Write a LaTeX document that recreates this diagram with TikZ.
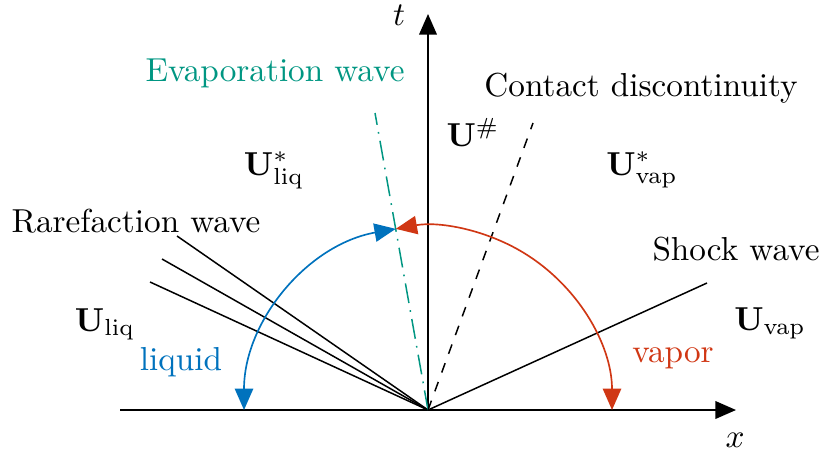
\documentclass[tikz,border=0pt]{standalone}
\usetikzlibrary{arrows.meta}
\definecolor{evapteal}{RGB}{0,150,130}
\definecolor{liqblue}{RGB}{0,114,189}
\definecolor{vapred}{RGB}{208,55,20}
\begin{document}
\begin{tikzpicture}[x=0.301pt,y=-0.301pt,
  axis/.style={line width=0.5pt,-{Triangle[length=6.2pt,width=5.3pt]}},
  wave/.style={line width=0.45pt},
  arcarrow/.style={line width=0.5pt,{Triangle[length=6.4pt,width=5.5pt]}-{Triangle[length=6.4pt,width=5.5pt]}},
  lbl/.style={inner sep=0pt},
  blbl/.style={inner sep=0pt,anchor=base}]
\useasboundingbox (0,0) rectangle (821,455);
\coordinate (O) at (428,410);
\coordinate (xl) at (120,410);
\coordinate (xr) at (736,410);
\coordinate (tt) at (428,14);
\coordinate (r1) at (177,236);
\coordinate (r2) at (162,259);
\coordinate (r3) at (150,282);
\coordinate (ev) at (375,113);
\coordinate (cd) at (533,123);
\coordinate (sw) at (707,283);
% axes
\draw[axis] (xl) -- (xr);
\draw[axis] (O) -- (tt);
\node[lbl] (tlab) at (399,15) {$t$};
\node[lbl] (xlab) at (735,440) {$x$};
% waves
\draw[wave] (O) -- (r1);
\draw[wave] (O) -- (r2);
\draw[wave] (O) -- (r3);
\draw[wave,evapteal,dash pattern=on 6pt off 2.2pt on 0.5pt off 2.2pt] (O) -- (ev);
\draw[wave,dashed] (O) -- (cd);
\draw[wave] (O) -- (sw);
% arcs
\draw[arcarrow,liqblue] (O) ++(180:184) arc[start angle=180,end angle=259.9,radius=184];
\draw[arcarrow,vapred] (O) ++(0:184) arc[start angle=0,end angle=-100.1,radius=184];
% labels
\node[lbl,evapteal] (evlab) at (275,73) {Evaporation wave};
\node[blbl] (cdlab) at (641,97) {Contact discontinuity};
\node[blbl] (swlab) at (736,260) {Shock wave};
\node[blbl] (rwlab) at (136,232) {Rarefaction wave};
\node[blbl] (uliqs) at (274,175) {$\mathbf{U}^{*}_{\mathrm{liq}}$};
\node[blbl] (uhash) at (473,147) {$\mathbf{U}^{\#}$};
\node[blbl] (uvaps) at (642,175) {$\mathbf{U}^{*}_{\mathrm{vap}}$};
\node[blbl] (uliq) at (105,331) {$\mathbf{U}_{\mathrm{liq}}$};
\node[blbl] (uvap) at (770,330) {$\mathbf{U}_{\mathrm{vap}}$};
\node[lbl,liqblue] (liqlab) at (181,362) {liquid};
\node[lbl,vapred] (vaplab) at (673,358) {vapor};
\end{tikzpicture}
\end{document}
